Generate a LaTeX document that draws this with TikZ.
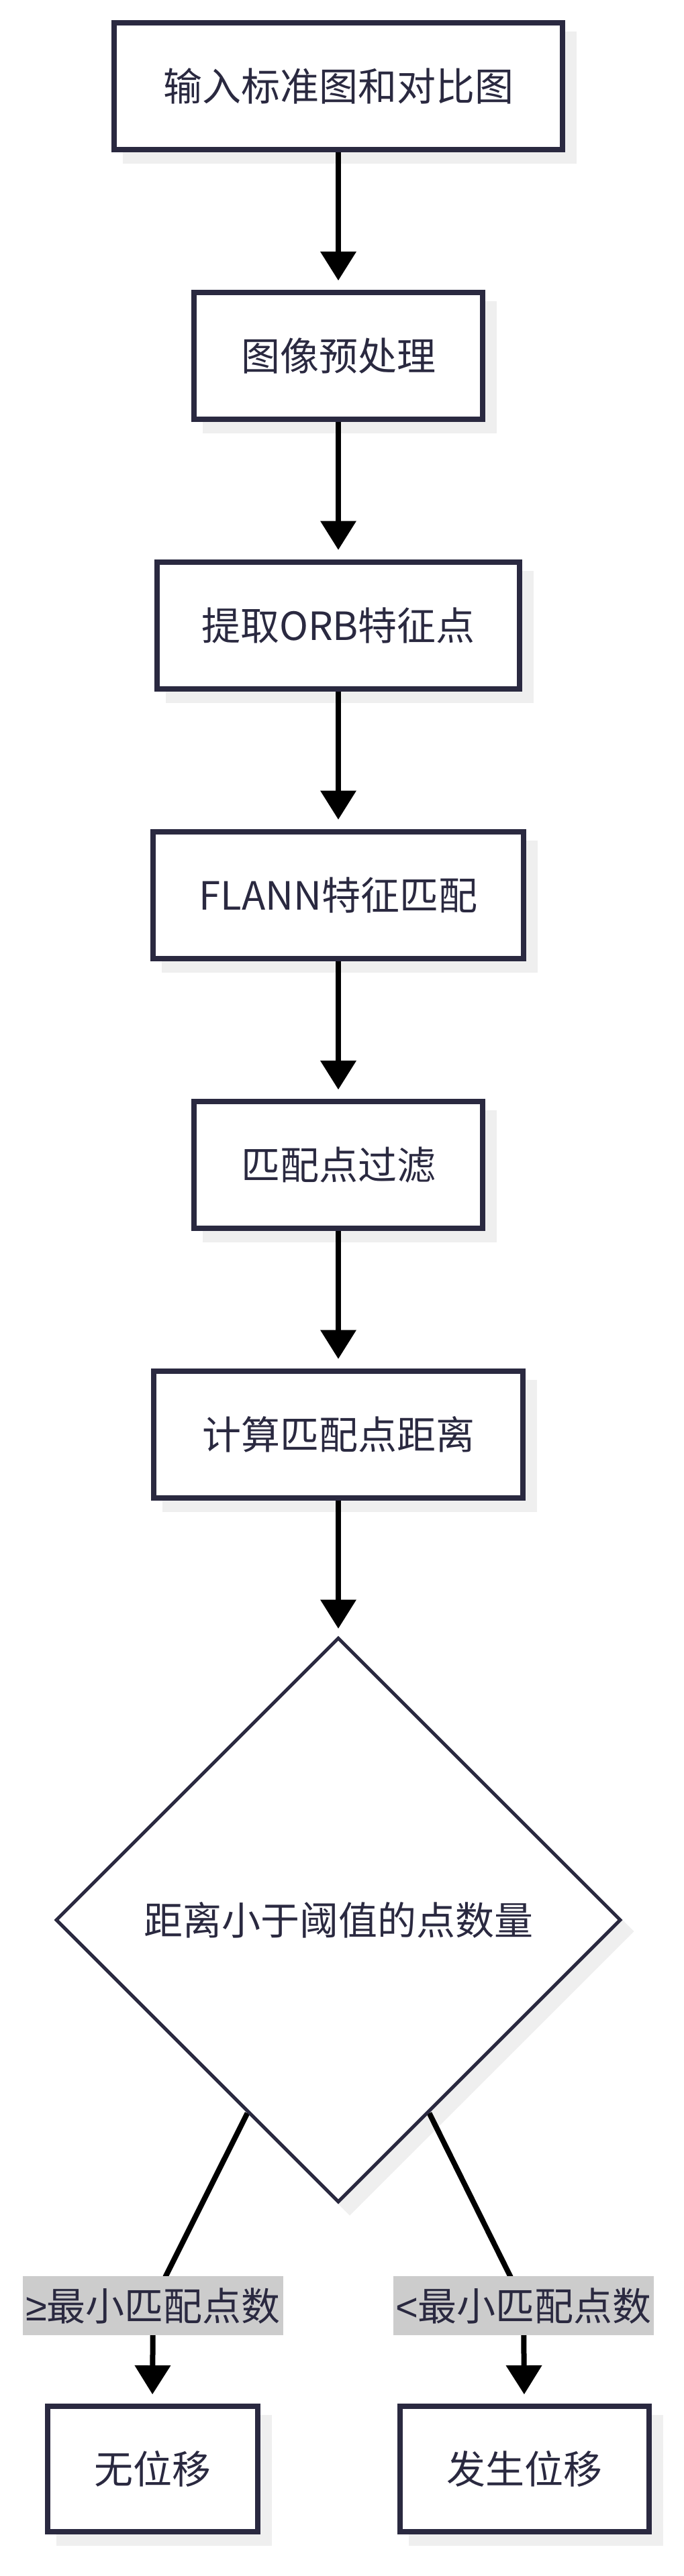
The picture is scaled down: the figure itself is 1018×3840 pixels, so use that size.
\documentclass[tikz,border=0pt]{standalone}
\usepackage{fontspec}
\setmainfont{Noto Sans CJK SC}
\newfontfamily\symf{Liberation Sans}
\usetikzlibrary{arrows.meta,shapes.geometric,backgrounds,calc}
\definecolor{ink}{HTML}{2A2940}
\definecolor{shadowc}{RGB}{239,239,239}
\definecolor{labelbg}{RGB}{204,204,204}
\begin{document}
\begin{tikzpicture}[x=1pt,y=-1pt,
  txt/.style={text=ink, font=\fontsize{58}{70}\selectfont},
  box/.style={txt, draw=ink, line width=8pt, fill=white, rectangle, inner sep=0pt, minimum height=189pt},
  dec/.style={txt, draw=ink, line width=5pt, fill=white, diamond, aspect=1, inner sep=0pt, minimum width=842pt, minimum height=842pt},
  elabel/.style={txt, fill=labelbg, inner sep=0pt, minimum width=388pt, minimum height=88pt},
  link/.style={draw=black, line width=8pt},
  arr/.style={link, -{Triangle[width=54pt,length=43pt,line width=0pt]}}
]
\useasboundingbox (0,0) rectangle (1018,3840);

\node[box, minimum width=668pt] (b1) at (504,128.5) {输入标准图和对比图};
\node[box, minimum width=430pt] (b2) at (504,530.5) {图像预处理};
\node[box, minimum width=540pt] (b3) at (504,932) {提取ORB特征点};
\node[box, minimum width=552pt] (b4) at (504,1334) {FLANN特征匹配};
\node[box, minimum width=430pt] (b5) at (504,1736.5) {匹配点过滤};
\node[box, minimum width=550pt] (b6) at (504,2138) {计算匹配点距离};
\node[dec] (dia) at (504,2862) {距离小于阈值的点数量};
\node[box, minimum width=313pt, minimum height=187pt] (n1) at (227,3680.5) {无位移};
\node[box, minimum width=371pt, minimum height=187pt] (n2) at (781,3680.5) {发生位移};
\node[elabel] (l1) at (228,3437) {{\symf ≥}最小匹配点数};
\node[elabel] (l2) at (780,3437) {{\symf <}最小匹配点数};

\coordinate (p1) at ($(dia.west)!0.68!(dia.south)$);
\coordinate (p2) at ($(dia.east)!0.68!(dia.south)$);
\coordinate (k1) at ($(l1.north)+(19,0)$);
\coordinate (k2) at ($(l2.north)+(-20,0)$);

\begin{scope}[on background layer]
  \fill[white] (0,0) rectangle (1018,3840);
  \foreach \n in {b1,b2,b3,b4,b5,b6,n1,n2}
    \fill[shadowc] ([shift={(17pt,-17pt)}]\n.south west) rectangle ([shift={(17pt,-17pt)}]\n.north east);
  \fill[shadowc] ([shift={(17pt,-17pt)}]dia.north) -- ([shift={(17pt,-17pt)}]dia.east)
     -- ([shift={(17pt,-17pt)}]dia.south) -- ([shift={(17pt,-17pt)}]dia.west) -- cycle;
  \draw[arr, shorten >=14pt] (b1) -- (b2);
  \draw[arr, shorten >=14pt] (b2) -- (b3);
  \draw[arr, shorten >=14pt] (b3) -- (b4);
  \draw[arr, shorten >=14pt] (b4) -- (b5);
  \draw[arr, shorten >=14pt] (b5) -- (b6);
  \draw[arr, shorten >=11pt] (b6) -- (dia);
  \draw[link] (p1) -- (k1) -- (l1.center);
  \draw[link] (p2) -- (k2) -- (l2.center);
  \draw[arr, shorten >=14pt] (l1.center) -- (n1.north);
  \draw[arr, shorten >=14pt] (l2.center) -- (n2.north);
\end{scope}
\end{tikzpicture}
\end{document}
